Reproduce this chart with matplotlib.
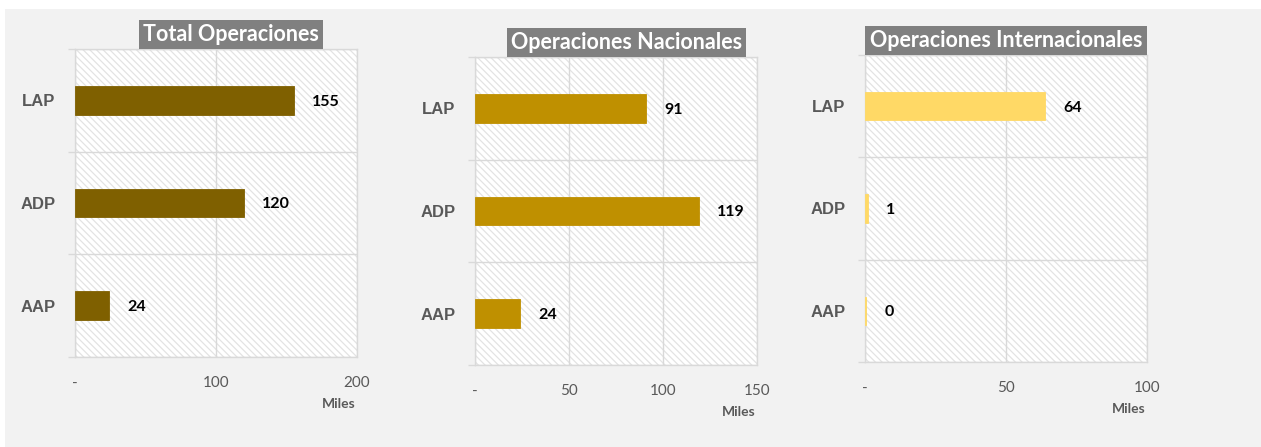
import matplotlib
matplotlib.use('Agg')
import matplotlib.pyplot as plt
from matplotlib.patches import Rectangle

plt.rcParams['font.family'] = ['Lato', 'DejaVu Sans']
plt.rcParams['hatch.linewidth'] = 0.9

# data (miles de operaciones)
categorias = ['AAP', 'ADP', 'LAP']
total = [24, 120, 155]
nacionales = [24, 119, 91]
internacionales = [0.4, 1, 64]

titulos = ['Total Operaciones', 'Operaciones Nacionales', 'Operaciones Internacionales']
colores = ['#7f6000', '#bf9000', '#ffd966']
xticks = [[0, 100, 200], [0, 50, 100, 150], [0, 50, 100]]
xtick_labels = [['-', '100', '200'], ['-', '50', '100', '150'], ['-', '50', '100']]
series = [total, nacionales, internacionales]

W, H = 1261, 447
fig = plt.figure(figsize=(W / 100, H / 100), dpi=100, facecolor='white')
fig.patches.append(Rectangle((5 / W, 0), 1, 438 / H, transform=fig.transFigure,
                             facecolor='#f2f2f2', edgecolor='none', zorder=-10))

# axes boxes in pixels: left, top, right, bottom
cajas = [(75, 49, 357, 357), (475, 57, 757, 365), (865, 55, 1147, 362)]
titulo_x = [0.553, 0.537, 0.5]
gris = '#d9d9d9'
texto = '#595959'

for i, (l, t, r, b) in enumerate(cajas):
    ax = fig.add_axes([l / W, (H - b) / H, (r - l) / W, (b - t) / H])
    ax.set_facecolor('white')
    # hatched background
    ax.add_patch(Rectangle((0, 0), 1, 1, transform=ax.transAxes, facecolor='white',
                           edgecolor='#e3e3e3', linewidth=0, hatch='\\\\\\\\\\', zorder=0.1))
    vals = series[i]
    ax.barh(range(len(categorias)), vals, height=0.28, color=colores[i],
            edgecolor=colores[i], linewidth=0.6, zorder=3)
    xmax = xticks[i][-1]
    for y, v in enumerate(vals):
        ax.annotate(f'{v:.0f}', xy=(v, y), xytext=(13, -1), textcoords='offset points',
                    ha='left', va='center', fontsize=11.5, fontweight='bold', color='black')
    ax.set_xlim(0, xmax)
    ax.set_ylim(-0.5, 2.5)
    ax.set_xticks(xticks[i])
    ax.set_xticklabels(xtick_labels[i], fontsize=11, color=texto)
    ax.tick_params(axis='x', length=0, pad=14)
    ax.set_yticks([-0.5, 0.5, 1.5, 2.5])
    ax.set_yticklabels([])
    ax.tick_params(axis='y', which='major', length=5, color=gris, width=1)
    ax.set_yticks(range(len(categorias)), minor=True)
    ax.set_yticklabels(categorias, minor=True, fontsize=12, fontweight='bold',
                       color=texto, family=['Liberation Sans'])
    ax.tick_params(axis='y', which='minor', length=0, pad=14)
    ax.grid(True, which='major', color=gris, linewidth=1)
    ax.set_axisbelow(True)
    for s in ax.spines.values():
        s.set_color(gris)
        s.set_linewidth(1)
    ax.annotate('Miles', xy=(1, 0), xycoords='axes fraction', xytext=(-1, -34),
                textcoords='offset points', ha='right', va='center', fontsize=10,
                fontweight='bold', color=texto)
    ax.annotate(titulos[i], xy=(titulo_x[i], 1), xycoords='axes fraction',
                xytext=(0, 3), textcoords='offset points', ha='center', va='bottom',
                fontsize=15.5, fontweight='bold', color='white',
                bbox=dict(boxstyle='square,pad=0.2', facecolor='#808080', edgecolor='none'))

fig.savefig('out.png', dpi=100, facecolor=fig.get_facecolor())
